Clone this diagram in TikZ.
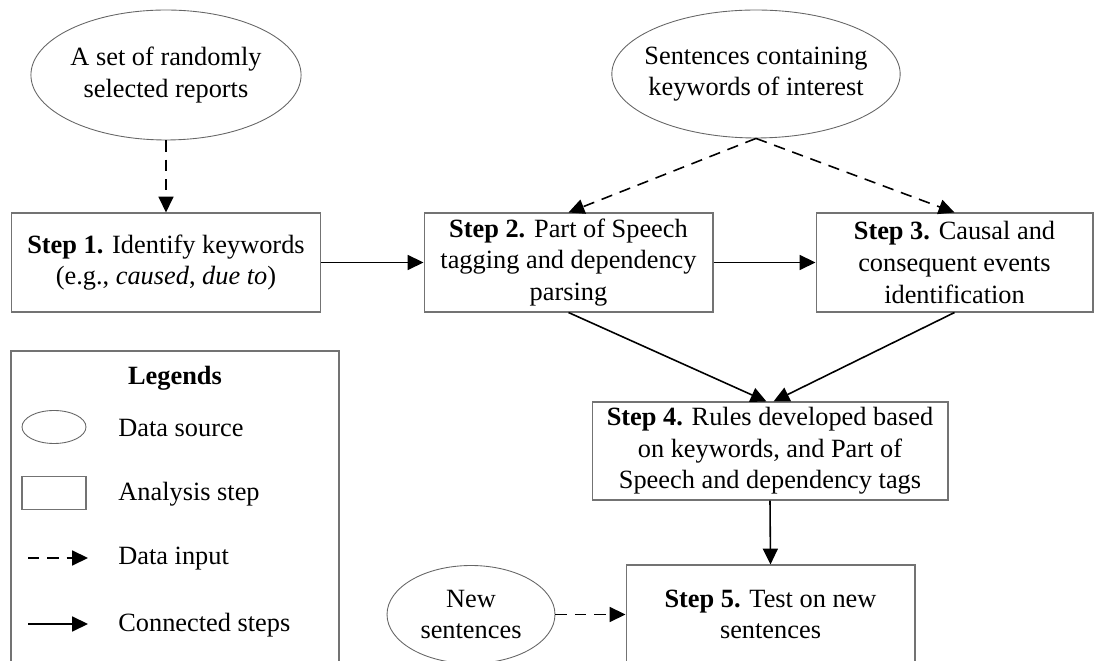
\documentclass[tikz,border=0pt]{standalone}
\usepackage{fontspec}
\setmainfont{Liberation Serif}
\usetikzlibrary{shapes.geometric,arrows.meta}

\begin{document}
\begin{tikzpicture}[x=0.02cm,y=-0.02cm,
  font=\fontsize{15}{18}\selectfont,
  src/.style={ellipse,draw=black!60,line width=0.5pt,inner sep=0pt,align=center},
  stepbox/.style={rectangle,draw=black!55,line width=0.6pt,inner sep=0pt,align=center},
  flow/.style={-{Triangle[length=9pt,width=8.5pt]},line width=0.9pt},
  datain/.style={flow,dash pattern=on 6.5pt off 4.5pt}]
\useasboundingbox (0,0) rectangle (1096,661);
\clip (0,0) rectangle (1096,661);
% data sources
\node[src,minimum width=5.36cm,minimum height=2.6cm] (srcreports) at (166,75)
  {A set of randomly\\selected reports};
\node[src,inner xsep=-5.5pt,minimum width=5.7cm,minimum height=2.56cm] (srckeys) at (756,74)
  {Sentences containing\\keywords of interest};
\node[src,minimum width=3.36cm,minimum height=1.96cm] (srcnew) at (471,614.5)
  {New\\sentences};
% analysis steps
\node[stepbox,minimum width=6.2cm,minimum height=1.98cm] (stepone) at (166,262.5)
  {\textbf{Step 1.} Identify keywords\\(e.g., \textit{caused}, \textit{due to})};
\node[stepbox,minimum width=5.78cm,minimum height=1.98cm] (steptwo) at (568.5,262.5)
  {\textbf{Step 2.} Part of Speech\\tagging and dependency\\parsing};
\node[stepbox,minimum width=5.54cm,minimum height=1.98cm] (stepthree) at (954.5,262.5)
  {\textbf{Step 3.} Causal and\\consequent events\\identification};
\node[stepbox,minimum width=7.12cm,minimum height=1.96cm] (stepfour) at (770,451)
  {\textbf{Step 4.} Rules developed based\\on keywords, and Part of\\Speech and dependency tags};
\node[stepbox,minimum width=5.78cm,minimum height=1.98cm] (stepfive) at (770.5,614.5)
  {\textbf{Step 5.} Test on new\\sentences};
% connectors
\draw[datain] (srcreports.south) -- (stepone.north);
\draw[datain] (srckeys.south) -- (steptwo.north);
\draw[datain] (srckeys.south) -- (stepthree.north);
\draw[flow] (stepone.east) -- (steptwo.west);
\draw[flow] (steptwo.east) -- (stepthree.west);
\draw[flow] (steptwo.south) -- ([xshift=-2pt]stepfour.north);
\draw[flow] (stepthree.south) -- ([xshift=2pt]stepfour.north);
\draw[flow] (stepfour.south) -- (stepfive.north);
\draw[datain] (srcnew.east) -- (stepfive.west);
% legend
\draw[draw=black!55,line width=0.6pt] (11,351) rectangle (339,700);
\node[font=\fontsize{15}{18}\selectfont\bfseries] (legtitle) at (175,378) {Legends};
\node[src,minimum width=1.28cm,minimum height=0.66cm] (legsrc) at (54,427) {};
\node[stepbox,minimum width=1.28cm,minimum height=0.66cm] (legstep) at (54,493) {};
\coordinate (legdinA) at (28,558);
\coordinate (legdinB) at (88,558);
\coordinate (legconA) at (28,624);
\coordinate (legconB) at (88,624);
\draw[datain] (legdinA) -- (legdinB);
\draw[flow] (legconA) -- (legconB);
\node[anchor=west,inner sep=0pt] (legsrctxt) at (118,428) {Data source};
\node[anchor=west,inner sep=0pt] (legsteptxt) at (118,494) {Analysis step};
\node[anchor=west,inner sep=0pt] (legdintxt) at (118,559) {Data input};
\node[anchor=west,inner sep=0pt] (legcontxt) at (118,625) {Connected steps};
\end{tikzpicture}
\end{document}
